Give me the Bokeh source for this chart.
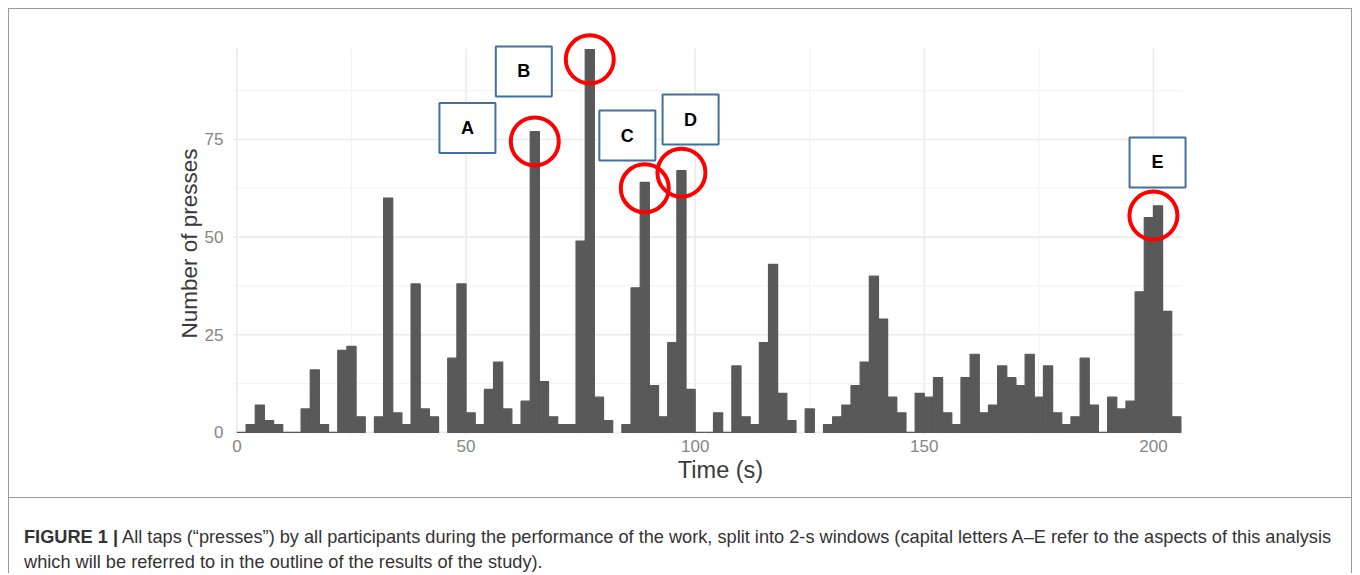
import numpy as np
from bokeh.plotting import figure
from bokeh.models import Range1d, FixedTicker, Title, Div, Spacer
from bokeh.layouts import column, row
from bokeh.core.properties import value
from bokeh.embed import file_html
from bokeh.resources import INLINE

nan = float("nan")

# ---------------- data ----------------
bin_width = 2  # seconds per window
counts = [0, 2, 7, 3, 2, 0, 0, 6, 16, 2, 0, 21, 22, 4, nan,
          4, 60, 5, 2, 38, 6, 4, nan,
          19, 38, 5, 2, 11, 18, 6, 2, 8, 77, 13, 4, 2, 2, 49, 98, 9, 3, nan,
          2, 37, 64, 12, 4, 23, 67, 11, 0, 0, 5, 0, 17, 4, 2, 23, 43, 10, 3, nan,
          6, nan,
          2, 4, 7, 12, 18, 40, 29, 9, 5, 0, 10, 9, 14, 5, 2, 14, 20, 5, 7, 17,
          14, 12, 20, 9, 17, 5, 2, 4, 19, 7, 0, 9, 6, 8, 36, 55, 58, 31, 4]

x_ticks = [0, 50, 100, 150, 200]
x_minor = [25, 75, 125, 175]
y_ticks = [0, 25, 50, 75]
y_minor = [12.5, 37.5, 62.5, 87.5]

box_letters = ["A", "B", "C", "D", "E"]
box_x = [50.3, 62.6, 85.2, 99.0, 200.9]
box_y = [77.9, 92.4, 76.0, 80.1, 69.1]

circle_x = [65, 77, 89, 97, 200]
circle_y = [74.5, 95.5, 62.5, 66.5, 55.5]

caption_bold = "FIGURE 1 |"
caption_line1 = ("All taps (\u201cpresses\u201d) by all participants during the performance of the work, "
                 "split into 2-s windows (capital letters A\u2013E refer to the aspects of this analysis")
caption_line2 = "which will be referred to in the outline of the results of the study)."

# ---------------- figure ----------------
FONT = "Liberation Sans"
panel_x = (-0.75, 206.3)
panel_y = (-0.8, 98.3)

p = figure(width=1342, height=488,
           x_range=Range1d(-0.75, 211.8), y_range=Range1d(-0.8, 103.4),
           output_backend="svg", toolbar_location=None,
           min_border_left=224, min_border_right=144,
           min_border_top=19, min_border_bottom=62)
p.outline_line_color = None
p.background_fill_color = "white"
p.border_fill_color = "white"
p.xgrid.visible = False
p.ygrid.visible = False

# manual grid limited to panel
grid_col = "#ebebeb"
p.segment(x0=x_ticks, x1=x_ticks, y0=[panel_y[0]] * len(x_ticks), y1=[panel_y[1]] * len(x_ticks),
          line_color=grid_col, line_width=1.6)
p.segment(x0=x_minor, x1=x_minor, y0=[panel_y[0]] * len(x_minor), y1=[panel_y[1]] * len(x_minor),
          line_color="#f3f3f3", line_width=1.2)
p.segment(x0=[panel_x[0]] * len(y_ticks), x1=[panel_x[1]] * len(y_ticks), y0=y_ticks, y1=y_ticks,
          line_color=grid_col, line_width=1.6)
p.segment(x0=[panel_x[0]] * len(y_minor), x1=[panel_x[1]] * len(y_minor), y0=y_minor, y1=y_minor,
          line_color="#f3f3f3", line_width=1.2)

# bars
top = np.array(counts, dtype=float)
left = np.arange(len(top)) * bin_width
mask = ~np.isnan(top)
p.quad(left=left[mask], right=left[mask] + bin_width, bottom=0, top=top[mask],
       fill_color="#595959", line_color="#595959", line_width=1.2)

# annotation boxes
p.rect(x=box_x, y=box_y, width=56, height=50, width_units="screen", height_units="screen",
       fill_color="white", line_color="#41719C", line_width=2)
p.text(x=box_x, y=box_y, text=box_letters, text_font=value(FONT), text_font_style="bold",
       text_font_size="18px", text_color="black", text_align="center", text_baseline="middle")

# red circles
p.scatter(x=circle_x, y=circle_y, marker="circle", size=48, fill_alpha=0,
          line_color="#FF0000", line_width=4)

# axes
p.xaxis.ticker = FixedTicker(ticks=x_ticks)
p.yaxis.ticker = FixedTicker(ticks=y_ticks)
for ax in (p.xaxis, p.yaxis):
    ax.axis_line_color = None
    ax.major_tick_line_color = None
    ax.minor_tick_line_color = None
    ax.major_tick_out = 0
    ax.major_tick_in = 0
    ax.major_label_text_font = FONT
    ax.major_label_text_font_size = "17px"
    ax.major_label_text_color = "#858585"
p.yaxis.major_label_standoff = 10
p.xaxis.major_label_standoff = 4

p.xaxis.axis_label = "Time (s)"
p.xaxis.axis_label_text_font = FONT
p.xaxis.axis_label_text_font_size = "23.5px"
p.xaxis.axis_label_text_font_style = "normal"
p.xaxis.axis_label_text_color = "#3a3a3a"
p.xaxis.axis_label_standoff = 2

ytitle = Title(text="Number of presses", align="left", offset=97,
               text_font=FONT, text_font_size="22.5px", text_font_style="normal",
               text_color="#3a3a3a", standoff=0)
p.add_layout(ytitle, "left")

# caption
cap_html = (f'<div style="font-family:\'{FONT}\',Arial,sans-serif;font-size:18.2px;color:#333;'
            f'line-height:25px;padding:27px 0 0 15px;white-space:nowrap;">'
            f'<b>{caption_bold}</b> {caption_line1}<br>{caption_line2}</div>')
cap = Div(text=cap_html, width=1342, height=76, margin=(0, 0, 0, 0),
          styles={"border-top": "1px solid #9a9a9a"})

inner = column(p, cap, spacing=0,
               styles={"border-top": "1px solid #9a9a9a", "border-left": "1px solid #9a9a9a",
                       "border-right": "1px solid #9a9a9a"})
layout = column(Spacer(height=8), row(Spacer(width=8), inner, spacing=0), spacing=0)

open("out.html", "w").write(file_html(layout, INLINE, title="Figure 1"))
